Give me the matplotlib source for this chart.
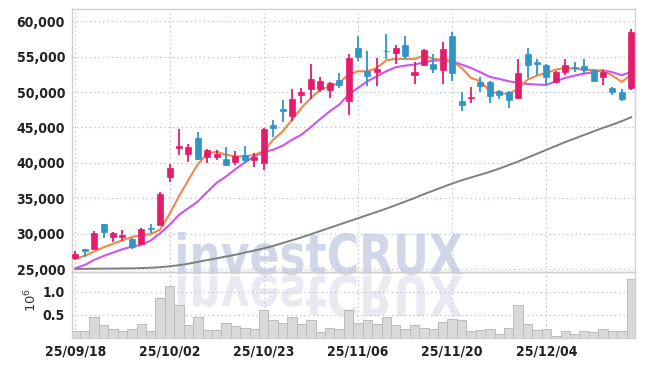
import numpy as np
import matplotlib
matplotlib.use("Agg")
import matplotlib.pyplot as plt
from matplotlib.textpath import TextPath
from matplotlib.patches import PathPatch
from matplotlib.font_manager import FontProperties
from matplotlib.transforms import Affine2D, IdentityTransform

# trading days, 25/09/18 .. 25/12/17 (60 sessions)
tick_pos = [0, 10, 20, 30, 40, 50]
tick_labels = ["25/09/18", "25/10/02", "25/10/23", "25/11/06", "25/11/20", "25/12/04"]

opens = [26650, 27800, 27900, 31400, 29500, 29500, 29300, 28500, 30800, 31300,
         37950, 42050, 41200, 43550, 40850, 40850, 40600, 40100, 41100, 40400,
         39950, 45350, 47650, 46600, 49550, 50400, 50400, 50350, 51700, 48700,
         56250, 52950, 52800, 55850, 55500, 56700, 52350, 53850, 53900, 53100,
         57850, 48800, 49100, 51450, 51400, 50100, 49950, 49100, 55300, 54200,
         53850, 51400, 52800, 53550, 53650, 53050, 52100, 50500, 50050, 50600]
highs = [27600, 27850, 30350, 31450, 30250, 30500, 29350, 30800, 31350, 35850,
         39900, 44800, 42650, 44300, 41900, 41850, 42250, 41650, 42350, 41400,
         44900, 46050, 48900, 50450, 50600, 53950, 52150, 51400, 52750, 55400,
         57950, 55800, 54750, 58200, 56600, 57950, 54250, 56000, 55400, 57100,
         58500, 49950, 50650, 52050, 51500, 50350, 50100, 54650, 56250, 54650,
         53900, 52950, 54650, 54200, 54650, 53250, 53150, 50700, 50450, 58850]
lows = [26350, 26750, 27750, 29400, 28800, 29000, 27900, 28450, 30100, 31200,
        37300, 41100, 40150, 40450, 40000, 40450, 39500, 39750, 40050, 39400,
        39000, 43650, 45750, 45950, 48450, 49050, 49950, 49150, 50600, 46750,
        54400, 50800, 50800, 54650, 53900, 54650, 51200, 53650, 52700, 51200,
        51600, 47300, 48450, 50000, 48450, 48950, 47750, 49000, 52000, 52450,
        50800, 51300, 52450, 52800, 52600, 51400, 51050, 49600, 48700, 50350]
closes = [27150, 27650, 30100, 30200, 30100, 29850, 28200, 30650, 30700, 35650,
          39300, 42450, 42300, 40550, 41800, 41300, 39750, 41000, 40450, 40850,
          44850, 44900, 47300, 48950, 50050, 51900, 51600, 51300, 50950, 54850,
          54900, 52200, 53300, 55750, 56250, 55050, 52800, 55900, 53300, 56000,
          52700, 48150, 49350, 50800, 49500, 49650, 48850, 52700, 53800, 54000,
          52100, 52850, 53750, 53400, 53050, 51600, 52800, 49950, 48950, 58500]

ma_short = [26500, 26900, 27500, 28100, 28600, 29100, 29550, 29850, 29950, 30600,
            32800, 35300, 37600, 39800, 41300, 41600, 41150, 40920, 40920, 41150,
            41630, 43270, 44450, 46100, 47750, 49160, 50340, 50810, 51280, 52460,
            52930, 52930, 53400, 54480, 54670, 54670, 54670, 55140, 54670, 54580,
            54340, 53400, 51990, 51520, 50100, 49770, 49770, 50430, 51750, 52320,
            52690, 53170, 53400, 53310, 53170, 53070, 53020, 52320, 51420, 52460]
ma_mid = [25140, 25610, 26320, 26880, 27350, 27830, 28200, 28440, 29050, 30090,
          31260, 32680, 33620, 34560, 35900, 37200, 38090, 39130, 40070, 40920,
          41530, 41860, 42430, 43270, 43980, 45060, 46200, 47280, 48220, 49630,
          50580, 51520, 52220, 52930, 53500, 53730, 53870, 54200, 54440, 54480,
          54340, 53870, 53400, 52790, 52130, 51850, 51520, 51280, 51140, 51050,
          51000, 51520, 51990, 52320, 52600, 52790, 53070, 52790, 52370, 52840]
ma_long = [25050, 25070, 25090, 25100, 25110, 25120, 25140, 25170, 25220, 25300,
           25420, 25580, 25780, 26050, 26300, 26550, 26800, 27050, 27350, 27650,
           27950, 28300, 28700, 29100, 29500, 29950, 30400, 30850, 31300, 31750,
           32200, 32650, 33100, 33550, 34050, 34550, 35050, 35600, 36100, 36600,
           37100, 37550, 37950, 38350, 38750, 39200, 39700, 40200, 40750, 41300,
           41850, 42400, 42950, 43450, 43950, 44450, 44950, 45400, 45900, 46450]

volume = [0.16, 0.16, 0.46, 0.27, 0.20, 0.16, 0.20, 0.30, 0.14, 0.85,
          1.12, 0.70, 0.29, 0.46, 0.17, 0.17, 0.33, 0.25, 0.22, 0.20,
          0.61, 0.38, 0.33, 0.46, 0.30, 0.39, 0.12, 0.22, 0.20, 0.61,
          0.33, 0.38, 0.30, 0.46, 0.27, 0.20, 0.29, 0.22, 0.20, 0.35,
          0.41, 0.38, 0.16, 0.17, 0.20, 0.09, 0.22, 0.70, 0.30, 0.17,
          0.20, 0.05, 0.14, 0.09, 0.14, 0.12, 0.20, 0.14, 0.14, 1.28]

UP = "#e31c6b"
DOWN = "#2f95c7"
GRID = "#b9bfd3"
FRAME = "#cfcfcf"

fig = plt.figure(figsize=(6.45, 3.66), dpi=100, facecolor="white")
ax = fig.add_axes([72 / 645, 94 / 366, 563 / 645, 263 / 366], facecolor="none")
axv = fig.add_axes([72 / 645, 28 / 366, 563 / 645, 66 / 366], facecolor="none", sharex=ax)

x = np.arange(len(opens))
o = np.array(opens)
c = np.array(closes)
up = c >= o
colors = np.where(up, UP, DOWN)

ax.vlines(x, lows, highs, colors=colors, linewidth=1.3, zorder=3)
body_bottom = np.minimum(o, c)
body_h = np.maximum(np.abs(c - o), 70)
ax.bar(x, body_h, bottom=body_bottom, width=0.64, color=colors, edgecolor=colors,
       linewidth=0.5, zorder=4)

ax.plot(x, ma_long, color="#7f7f7f", linewidth=1.4, zorder=2)
ax.plot(x, ma_mid, color="#cc55ee", linewidth=1.5, zorder=2)
ax.plot(x, ma_short, color="#f0884a", linewidth=1.5, zorder=2)

ax.set_xlim(-0.35, 59.4)
ax.set_ylim(24620, 61710)
ax.set_yticks(range(25000, 60001, 5000))
ax.set_yticklabels([f"{v:,}" for v in range(25000, 60001, 5000)])

axv.bar(x, volume, width=1.0, color="#d9d9d9", edgecolor="#bcbcbc", linewidth=0.7, zorder=2)
axv.set_ylim(0, 1.42)
axv.set_yticks([0.5, 1.0])
axv.set_yticklabels(["0.5", "1.0"])
axv.set_xticks(tick_pos)
axv.set_xticklabels(tick_labels)
fig.text(31 / 645, 1 - 300 / 366, "$10^6$", rotation=90, ha="center", va="center",
         fontsize=9.5, color="#333333", family="serif")

for a in (ax, axv):
    a.grid(True, linestyle=(0, (1, 2.5)), color=GRID, linewidth=0.9, zorder=0)
    a.tick_params(length=0, pad=5, labelcolor="#222222")
    for s in a.spines.values():
        s.set_color(FRAME)
        s.set_linewidth(1.0)
    for lab in a.get_yticklabels() + a.get_xticklabels():
        lab.set_family("DejaVu Sans")
        lab.set_fontstretch("condensed")
        lab.set_fontweight("bold")
        lab.set_fontsize(10)
ax.tick_params(labelbottom=False)
ax.set_xticks(tick_pos)

# watermark with reflection
fp = FontProperties(family="DejaVu Sans", weight="bold")
tp = TextPath((0, 0), "investCRUX", size=1, prop=fp)
ext = tp.get_extents()
sx = (462 - 178) / ext.width
sy = (275 - 232) / ext.height
base = 366 - 275
tr = Affine2D().translate(-ext.x0, -ext.y0).scale(sx, sy).translate(178, base)
tr2 = Affine2D().translate(-ext.x0, -ext.y0).scale(sx, -sy).translate(178, base)
wm = PathPatch(tp, transform=tr + IdentityTransform(), color="#d1d7e8", lw=0, zorder=-1)
wm2 = PathPatch(tp, transform=tr2 + IdentityTransform(), color="#e9eaf1", lw=0, zorder=-1)
fig.add_artist(wm)
fig.add_artist(wm2)

fig.savefig("out.png", dpi=100, facecolor="white")
